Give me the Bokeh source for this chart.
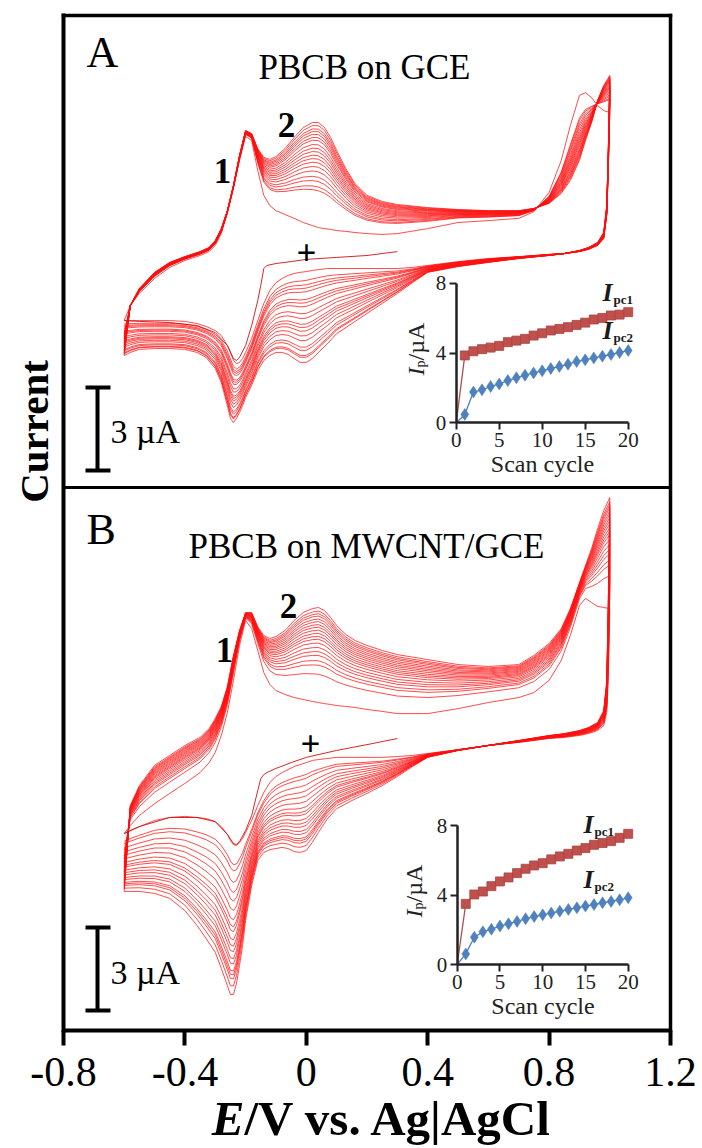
import numpy as np
from bokeh.plotting import figure
from bokeh.models import Range1d, LinearAxis, FixedTicker
from bokeh.embed import file_html
from bokeh.resources import INLINE
from bokeh.core.properties import value

FONT = "Liberation Serif"

# ---------------- data ----------------
E_ticks = [-0.8, -0.4, 0.0, 0.4, 0.8, 1.2]
E_tick_labels = ["-0.8", "-0.4", "0", "0.4", "0.8", "1.2"]

scan_cycle = list(range(0, 21))
ipc1_A = [0, 3.86, 4.10, 4.22, 4.31, 4.41, 4.62, 4.71, 4.81, 5.00, 5.13, 5.29, 5.38, 5.48, 5.61, 5.74, 5.92, 6.01, 6.15, 6.20, 6.34]
ipc2_A = [0, 0.48, 1.76, 1.89, 2.08, 2.23, 2.42, 2.58, 2.73, 2.86, 2.98, 3.11, 3.23, 3.36, 3.51, 3.61, 3.72, 3.82, 3.91, 4.03, 4.14]
ipc1_B = [0, 3.49, 4.03, 4.20, 4.51, 4.78, 5.01, 5.26, 5.51, 5.70, 5.83, 6.05, 6.22, 6.37, 6.56, 6.70, 6.89, 6.99, 7.10, 7.29, 7.52]
ipc2_B = [0, 0.61, 1.57, 1.88, 2.03, 2.21, 2.34, 2.48, 2.63, 2.76, 2.86, 2.96, 3.07, 3.17, 3.26, 3.36, 3.45, 3.55, 3.63, 3.72, 3.84]
inset_y_ticks = [0, 4, 8]
inset_x_ticks = [0, 5, 10, 15, 20]
scale_bar_uA = 3

# potential grids (V)
anodic_E = [-0.60, -0.58, -0.55, -0.50, -0.45, -0.40, -0.35, -0.32, -0.30, -0.28,
            -0.26, -0.24, -0.22, -0.20, -0.18, -0.16, -0.14, -0.12, -0.10, -0.07,
            -0.04, -0.01, 0.02, 0.04, 0.06, 0.08, 0.10, 0.13, 0.16, 0.20,
            0.25, 0.30, 0.40, 0.50, 0.60, 0.70, 0.75, 0.80, 0.84, 0.87,
            0.90, 0.92, 0.94, 0.96, 0.98, 1.00]
cathodic_E = [1.00, 0.995, 0.99, 0.98, 0.96, 0.93, 0.90, 0.85, 0.80, 0.70,
              0.60, 0.50, 0.40, 0.35, 0.30, 0.25, 0.20, 0.15, 0.10, 0.07,
              0.04, 0.02, 0.00, -0.02, -0.04, -0.06, -0.08, -0.10, -0.12, -0.14,
              -0.16, -0.18, -0.20, -0.21, -0.22, -0.23, -0.24, -0.25, -0.26, -0.28,
              -0.30, -0.33, -0.36, -0.40, -0.45, -0.50, -0.55, -0.58, -0.60]
init_E = [0.30, 0.25, 0.20, 0.10, 0.00, -0.05, -0.10, -0.13, -0.14, -0.15, -0.16,
          -0.18, -0.20, -0.22, -0.23, -0.24, -0.26, -0.30, -0.36, -0.45, -0.55, -0.60]

# Panel A currents (uA): first and 20th cycle
A_an_first = [-2.53, -1.99, -1.55, -1.01, -0.61, -0.36, -0.18, -0.04, 0.18, 0.61,
              1.34, 2.24, 3.25, 4.12, 3.97, 2.89, 1.99, 1.62, 1.44, 1.30,
              1.16, 1.01, 0.90, 0.83, 0.79, 0.76, 0.72, 0.69, 0.65, 0.61,
              0.58, 0.61, 0.79, 1.01, 1.08, 1.16, 1.40, 2.10, 3.25, 4.51,
              5.60, 5.70, 5.52, 5.23, 5.05, 4.98]
A_an_last = [-3.79, -1.99, -1.37, -0.79, -0.43, -0.22, -0.04, 0.11, 0.36, 0.79,
             1.44, 2.35, 3.43, 4.33, 4.22, 3.68, 3.36, 3.29, 3.39, 3.68,
             4.08, 4.44, 4.62, 4.62, 4.44, 4.08, 3.61, 2.96, 2.42, 1.99,
             1.77, 1.66, 1.55, 1.48, 1.44, 1.44, 1.52, 1.70, 2.06, 2.53,
             3.25, 3.97, 4.62, 5.42, 5.96, 6.32]
A_ca_first = [4.98, 2.89, 1.26, 0.43, 0.18, 0.04, -0.04, -0.11, -0.14, -0.22,
              -0.29, -0.40, -0.54, -0.61, -0.65, -0.65, -0.65, -0.65, -0.65, -0.65,
              -0.69, -0.72, -0.76, -0.79, -0.83, -0.90, -1.01, -1.16, -1.44, -1.91,
              -2.53, -3.18, -3.68, -3.90, -4.04, -4.08, -3.97, -3.68, -3.43, -3.07,
              -2.89, -2.74, -2.64, -2.56, -2.53, -2.53, -2.53, -2.53, -2.53]
A_ca_last = [6.32, 3.61, 1.62, 0.65, 0.29, 0.11, 0.00, -0.11, -0.18, -0.29,
             -0.43, -0.58, -0.79, -1.16, -1.55, -1.91, -2.27, -2.64, -3.00, -3.36,
             -3.68, -3.90, -4.04, -4.04, -3.90, -3.75, -3.68, -3.68, -3.79, -3.97,
             -4.33, -4.87, -5.31, -5.60, -5.85, -6.06, -6.21, -6.06, -5.60, -4.77,
             -4.26, -3.86, -3.68, -3.57, -3.54, -3.54, -3.57, -3.68, -3.79]
A_init = [-0.04, -0.11, -0.18, -0.25, -0.32, -0.40, -0.47, -0.54, -0.65, -1.26, -1.81,
          -2.71, -3.43, -3.86, -3.97, -3.90, -3.43, -2.96, -2.71, -2.60, -2.56, -2.53]

# Panel B currents (uA)
B_an_first = [-3.72, -3.43, -3.07, -2.64, -2.27, -1.91, -1.52, -1.16, -0.79, -0.18,
              0.65, 1.81, 3.07, 3.97, 3.68, 2.89, 2.09, 1.66, 1.44, 1.30,
              1.19, 1.12, 1.05, 1.01, 0.97, 0.94, 0.90, 0.87, 0.83, 0.76,
              0.69, 0.61, 0.61, 0.79, 1.01, 1.19, 1.37, 1.81, 2.53, 3.43,
              4.51, 4.77, 4.62, 4.48, 4.44, 4.40]
B_an_last = [-5.81, -2.71, -1.99, -1.26, -0.90, -0.54, -0.25, 0.07, 0.43, 0.87,
             1.59, 2.71, 3.61, 4.26, 4.26, 3.75, 3.43, 3.32, 3.39, 3.61,
             3.97, 4.26, 4.40, 4.44, 4.33, 4.08, 3.79, 3.47, 3.25, 3.07,
             2.89, 2.74, 2.56, 2.38, 2.31, 2.38, 2.71, 3.14, 3.68, 4.40,
             5.34, 5.96, 6.57, 7.29, 7.94, 8.41]
B_ca_first = [4.40, 1.81, 0.65, 0.18, 0.00, -0.11, -0.18, -0.25, -0.29, -0.43,
              -0.54, -0.69, -0.83, -0.90, -0.94, -0.97, -0.97, -0.97, -0.97, -1.01,
              -1.05, -1.08, -1.16, -1.23, -1.30, -1.41, -1.52, -1.66, -1.88, -2.24,
              -2.71, -3.25, -3.68, -3.90, -4.04, -4.15, -4.12, -3.97, -3.75, -3.47,
              -3.29, -3.18, -3.14, -3.10, -3.14, -3.25, -3.47, -3.61, -3.72]
B_ca_last = [8.41, 4.69, 1.81, 0.72, 0.29, 0.11, 0.00, -0.11, -0.18, -0.36,
             -0.54, -0.72, -0.97, -1.30, -1.66, -1.99, -2.27, -2.53, -2.82, -3.18,
             -3.68, -4.04, -4.33, -4.40, -4.37, -4.26, -4.22, -4.26, -4.30, -4.40,
             -4.69, -5.60, -6.86, -7.76, -8.48, -9.13, -9.53, -9.53, -9.21, -8.59,
             -8.01, -7.51, -7.04, -6.50, -6.06, -5.88, -5.81, -5.81, -5.81]
B_init = [-0.29, -0.40, -0.51, -0.72, -0.97, -1.16, -1.37, -1.52, -1.59, -1.74, -2.17,
          -3.07, -3.61, -4.01, -4.12, -4.08, -3.75, -3.29, -3.14, -3.14, -3.47, -3.72]

# ---------------- layout (canvas pixel coordinates) ----------------
W, H = 700, 1146
FL, FR, FT, FB = 63, 670, 15, 1030          # drawn frame
DIV = 487                                   # divider between panels
PX_PER_V = (FR - FL) / 2.0
PX_PER_UA = 27.7
A_ZERO, B_ZERO = 250, 730

p = figure(width=W, height=H, output_backend="svg", toolbar_location=None,
           x_range=Range1d(0, W), y_range=Range1d(H, 0),
           x_axis_type=None, y_axis_type=None,
           min_border_left=0, min_border_right=0, min_border_top=0, min_border_bottom=0)
p.min_border = 0
p.outline_line_color = None
p.background_fill_color = "white"
p.border_fill_color = "white"

p.extra_x_ranges = {"E": Range1d(-0.8 - FL / PX_PER_V, 1.2 + (W - FR) / PX_PER_V)}
p.extra_y_ranges = {
    "A": Range1d((A_ZERO - H) / PX_PER_UA, A_ZERO / PX_PER_UA),
    "B": Range1d((B_ZERO - H) / PX_PER_UA, B_ZERO / PX_PER_UA),
}

# frame lines (top, left, right, divider)
p.segment(x0=[FL, FL, FR, FL], y0=[FT, FT, FT, DIV], x1=[FR, FL, FR, FR], y1=[FT, FB, FB, DIV],
          line_color="black", line_width=[3.5, 4, 3.5, 3], line_cap="square")

# main potential axis
xax = LinearAxis(x_range_name="E", fixed_location=FB, bounds=(-0.8, 1.2),
                 ticker=FixedTicker(ticks=E_ticks, minor_ticks=[]),
                 major_label_overrides={t: s for t, s in zip(E_ticks, E_tick_labels)})
xax.axis_line_width = 4
xax.axis_line_color = "black"
xax.major_tick_line_width = 4
xax.major_tick_line_color = "black"
xax.major_tick_out = 15
xax.major_tick_in = 0
xax.major_label_text_font = FONT
xax.major_label_text_font_size = "42px"
xax.major_label_text_color = "black"
xax.major_label_standoff = 12
p.add_layout(xax, "below")


def cv_cycles(an_first, an_last, ca_first, ca_last, ipc1, ipc2):
    af, al = np.array(an_first), np.array(an_last)
    cf, cl = np.array(ca_first), np.array(ca_last)
    i1, i2 = np.array(ipc1[1:]), np.array(ipc2[1:])
    w1 = (i1 - i1[0]) / (i1[-1] - i1[0])
    w2 = (i2 - i2[0]) / (i2[-1] - i2[0])
    xs, ys = [], []
    for k in range(len(i1)):
        ya = af + w2[k] * (al - af)
        yc = cf + w1[k] * (cl - cf)
        xs.append(list(anodic_E) + list(cathodic_E))
        ys.append(list(ya) + list(yc))
    return xs, ys


RED = "#ff1010"
for name, data, init in (("A", (A_an_first, A_an_last, A_ca_first, A_ca_last, ipc1_A, ipc2_A), A_init),
                         ("B", (B_an_first, B_an_last, B_ca_first, B_ca_last, ipc1_B, ipc2_B), B_init)):
    xs, ys = cv_cycles(*data)
    p.multi_line(xs, ys, x_range_name="E", y_range_name=name, line_color=RED, line_width=0.75)
    p.line(init_E, init, x_range_name="E", y_range_name=name, line_color="#d01010", line_width=0.9)

# scale bars (3 uA)
for name, zero, top_px in (("A", A_ZERO, 387), ("B", B_ZERO, 927)):
    top = (zero - top_px) / PX_PER_UA
    bot = top - scale_bar_uA
    p.segment(x0=[97, 85, 85], y0=[top, top, bot], x1=[97, 110, 110], y1=[bot, top, bot],
              y_range_name=name, line_color="black", line_width=4)


def txt(x, y, s, size, style="normal", align="left", baseline="middle", angle=0.0, color="black"):
    p.text(x=[x], y=[y], text=[s], text_font=value(FONT), text_font_size=size,
           text_font_style=style, text_align=align, text_baseline=baseline,
           angle=angle, text_color=color)


txt(110, 431, "3 µA", "34px")
txt(110, 972, "3 µA", "34px")

txt(86, 52, "A", "44px")
txt(86, 529, "B", "44px")
txt(364, 67, "PBCB on GCE", "35px", align="center")
txt(366, 546, "PBCB on MWCNT/GCE", "35px", align="center")
txt(222, 170, "1", "35px", "bold", align="center")
txt(286, 124, "2", "35px", "bold", align="center")
txt(306, 252, "+", "35px", "bold", align="center")
txt(224, 649, "1", "35px", "bold", align="center")
txt(288, 605, "2", "35px", "bold", align="center")
txt(310, 743, "+", "35px", "bold", align="center")

# ---------------- insets ----------------
insets = [
    ("A", 455.7, 627.7, 422.3, 282.7, ipc1_A, ipc2_A, (602, 292), (602, 330), (415, 375)),
    ("B", 456.7, 627.7, 964.0, 825.0, ipc1_B, ipc2_B, (583, 824), (583, 879), (413, 917)),
]
for name, x0, x20, y0, y8, i1, i2, lab1, lab2, ylab in insets:
    sx = (x20 - x0) / 20.0
    sy = (y0 - y8) / 8.0
    xn, yn = "i%sx" % name, "i%sy" % name
    p.extra_x_ranges[xn] = Range1d(-x0 / sx, 20 + (W - x20) / sx)
    p.extra_y_ranges[yn] = Range1d(-(H - y0) / sy, 8 + y8 / sy)

    ax = LinearAxis(x_range_name=xn, y_range_name=yn, fixed_location=0, bounds=(0, 20),
                    ticker=FixedTicker(ticks=inset_x_ticks, minor_ticks=[]), axis_label="Scan cycle")
    ay = LinearAxis(x_range_name=xn, y_range_name=yn, fixed_location=0, bounds=(0, 8),
                    ticker=FixedTicker(ticks=inset_y_ticks, minor_ticks=[]))
    for a in (ax, ay):
        a.axis_line_width = 2.5
        a.axis_line_color = "#222222"
        a.major_tick_line_width = 2
        a.major_tick_line_color = "#222222"
        a.major_tick_out = 7
        a.major_tick_in = 0
        a.major_label_text_font = FONT
        a.major_label_text_font_size = "21px"
        a.major_label_text_color = "#222222"
        a.major_label_standoff = 3
    ax.axis_label_text_font = FONT
    ax.axis_label_text_font_size = "24px"
    ax.axis_label_text_font_style = "normal"
    ax.axis_label_text_color = "#222222"
    ax.axis_label_standoff = 1
    p.add_layout(ax, "below")
    p.add_layout(ay, "left")

    p.line(scan_cycle, i1, x_range_name=xn, y_range_name=yn, line_color="#b0504c", line_width=1.3)
    p.scatter(scan_cycle[1:], i1[1:], x_range_name=xn, y_range_name=yn, marker="square",
              size=9, fill_color="#c0504d", line_color="#a84440", line_width=0.8)
    p.line(scan_cycle, i2, x_range_name=xn, y_range_name=yn, line_color="#4f81bd", line_width=1.3)
    p.scatter(scan_cycle[1:], i2[1:], x_range_name=xn, y_range_name=yn, marker="diamond",
              size=12, fill_color="#4f81bd", line_color="#4f81bd", line_width=0.5)

    for (lx, ly), sub in ((lab1, "pc1"), (lab2, "pc2")):
        txt(lx, ly, "I", "26px", "bold italic", color="#1a1a1a")
        txt(lx + 11, ly + 7, sub, "13px", "bold", color="#1a1a1a")

    yx, yy = ylab
    txt(yx, yy, "I", "24px", "italic", angle=np.pi / 2, color="#222222")
    txt(yx + 5, yy - 8, "p", "14px", "normal", angle=np.pi / 2, color="#222222")
    txt(yx, yy - 15, "/µA", "24px", "normal", angle=np.pi / 2, color="#222222")

# ---------------- outer labels ----------------
txt(33, 431, "Current", "41px", "bold", align="center", angle=np.pi / 2)
txt(244, 1118, "E", "49px", "bold italic", align="right")
txt(244, 1118, "/V vs. Ag|AgCl", "49px", "bold", align="left")

open("out.html", "w").write(file_html(p, INLINE))
